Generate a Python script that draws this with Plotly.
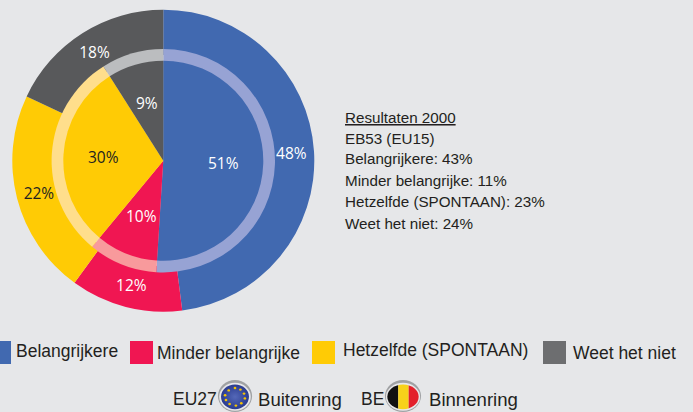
import base64
import math
import plotly.graph_objects as go

W, H = 693, 412
categories = ["Belangrijkere", "Minder belangrijke", "Hetzelfde (SPONTAAN)", "Weet het niet"]
outer_eu27 = [48, 12, 22, 18]
inner_be = [51, 10, 30, 9]
colors = ["#4169B0", "#F01652", "#FFCB05", "#58595B"]
ring_colors = ["#97A3D4", "#F89A9C", "#FFDE8C", "#BBBDBF"]
swatch_colors = ["#4169B0", "#F01652", "#FFCB05", "#6D6E70"]
label_colors = ["white", "white", "#231F20", "white"]
note_lines = ["<u>Resultaten 2000</u>", "EB53 (EU15)", "Belangrijkere: 43%", "Minder belangrijke: 11%",
              "Hetzelfde (SPONTAAN): 23%", "Weet het niet: 24%"]

BG = "#E6E7E9"
CX, CY = 163.3, 160.7


def dom(r):
    return dict(x=[(CX - r) / W, (CX + r) / W], y=[1 - (CY + r) / H, 1 - (CY - r) / H])


def px(x):
    return x / W


def py(y):
    return 1 - y / H


def pie(vals, r, cols, hole=0, text=False):
    return go.Pie(
        labels=categories, values=vals, sort=False, direction="clockwise", rotation=0,
        domain=dom(r), hole=hole, showlegend=False, hoverinfo="label+percent",
        marker=dict(colors=cols, line=dict(width=0)),
        texttemplate="%{value}%" if text else None,
        textinfo="value" if text else "none",
        textposition="inside" if text else "none",
        insidetextorientation="horizontal",
        insidetextfont=dict(family="Open Sans", size=15.5, color=label_colors),
    )


fig = go.Figure([
    pie(outer_eu27, 151, colors, hole=0.70, text=True),
    pie(inner_be, 111.7, ring_colors),
    pie(inner_be, 100, colors),
])

annotations = []


def txt(s, x, y, size, anchor="left", family="Liberation Sans", color="#231F20"):
    annotations.append(dict(text=s, x=px(x), y=py(y), xref="paper", yref="paper", showarrow=False,
                            xanchor=anchor, yanchor="middle", borderpad=0, borderwidth=0,
                            font=dict(family=family, size=size, color=color)))


# inner-pie value labels, placed from the data at the middle angle of each slice
cum = 0
total = sum(inner_be)
for v, col in zip(inner_be, label_colors):
    a = 2 * math.pi * (cum + v / 2) / total
    cum += v
    txt(f"{v}%", CX + 60 * math.sin(a), CY - 60 * math.cos(a), 15.5, "center", "Open Sans", col)

for line, y in zip(note_lines, [117, 138, 159, 180, 201, 223]):
    txt(line, 345, y, 15.2)

for name, x, y in zip(categories, [16, 157, 343, 573], [351, 353, 350, 353]):
    txt(name, x, y, 17.5)

txt("EU27", 173, 399, 17.5)
txt("Buitenring", 258, 399, 18.6)
txt("BE", 361, 399, 17.5)
txt("Binnenring", 429, 399, 18.6)

shapes = []
for col, (x0, x1) in zip(swatch_colors, [(-1, 11), (130, 153), (312, 335), (543, 566)]):
    shapes.append(dict(type="rect", xref="paper", yref="paper", x0=px(x0), x1=px(x1), y0=py(341), y1=py(364),
                       fillcolor=col, line=dict(width=0)))

eu_svg = """<svg xmlns='http://www.w3.org/2000/svg' width='40' height='40' viewBox='0 0 40 40'>
<defs><radialGradient id='g' cx='50%' cy='50%' r='50%'><stop offset='0%' stop-color='#5468B8'/><stop offset='100%' stop-color='#2B3C8F'/></radialGradient></defs>
<ellipse cx='20' cy='20' rx='19' ry='20' fill='#A0A2A4'/><ellipse cx='20' cy='21' rx='17.5' ry='17.5' fill='#E8E8EA'/>
<ellipse cx='20' cy='21' rx='15.5' ry='15.5' fill='url(#g)'/>
<g fill='#F5C400'><circle cx='20' cy='10' r='1.5'/><circle cx='26' cy='12' r='1.5'/><circle cx='30' cy='17' r='1.5'/><circle cx='31' cy='23' r='1.5'/><circle cx='27' cy='29' r='1.5'/><circle cx='21' cy='32' r='1.5'/><circle cx='14' cy='30' r='1.5'/><circle cx='10' cy='25' r='1.5'/><circle cx='9' cy='19' r='1.5'/><circle cx='13' cy='13' r='1.5'/></g></svg>"""
be_svg = """<svg xmlns='http://www.w3.org/2000/svg' width='40' height='40' viewBox='0 0 40 40'>
<defs><clipPath id='c'><ellipse cx='20' cy='21' rx='16.5' ry='15.5'/></clipPath></defs>
<ellipse cx='20' cy='20' rx='19' ry='20' fill='#A0A2A4'/><ellipse cx='20' cy='21' rx='18' ry='17.5' fill='#E8E8EA'/>
<g clip-path='url(#c)'><rect x='3' y='4' width='12' height='34' fill='#111'/><rect x='15' y='4' width='11' height='34' fill='#F7D21A'/><rect x='26' y='4' width='11' height='34' fill='#E3202B'/></g></svg>"""


def uri(svg):
    return "data:image/svg+xml;base64," + base64.b64encode(svg.encode()).decode()


images = [
    dict(source=uri(eu_svg), xref="paper", yref="paper", x=px(217), y=py(380), sizex=36 / W, sizey=32 / H,
         xanchor="left", yanchor="top", sizing="stretch", layer="above"),
    dict(source=uri(be_svg), xref="paper", yref="paper", x=px(384), y=py(380), sizex=38 / W, sizey=32 / H,
         xanchor="left", yanchor="top", sizing="stretch", layer="above"),
]

fig.update_layout(width=W, height=H, autosize=False, margin=dict(l=0, r=0, t=0, b=0), paper_bgcolor=BG,
                  plot_bgcolor=BG, annotations=annotations, shapes=shapes, images=images)
fig.write_html("out.html", config={"displayModeBar": False},
               post_script="document.body.style.margin='0';document.body.style.background='%s';document.documentElement.style.overflow='hidden';" % BG)
